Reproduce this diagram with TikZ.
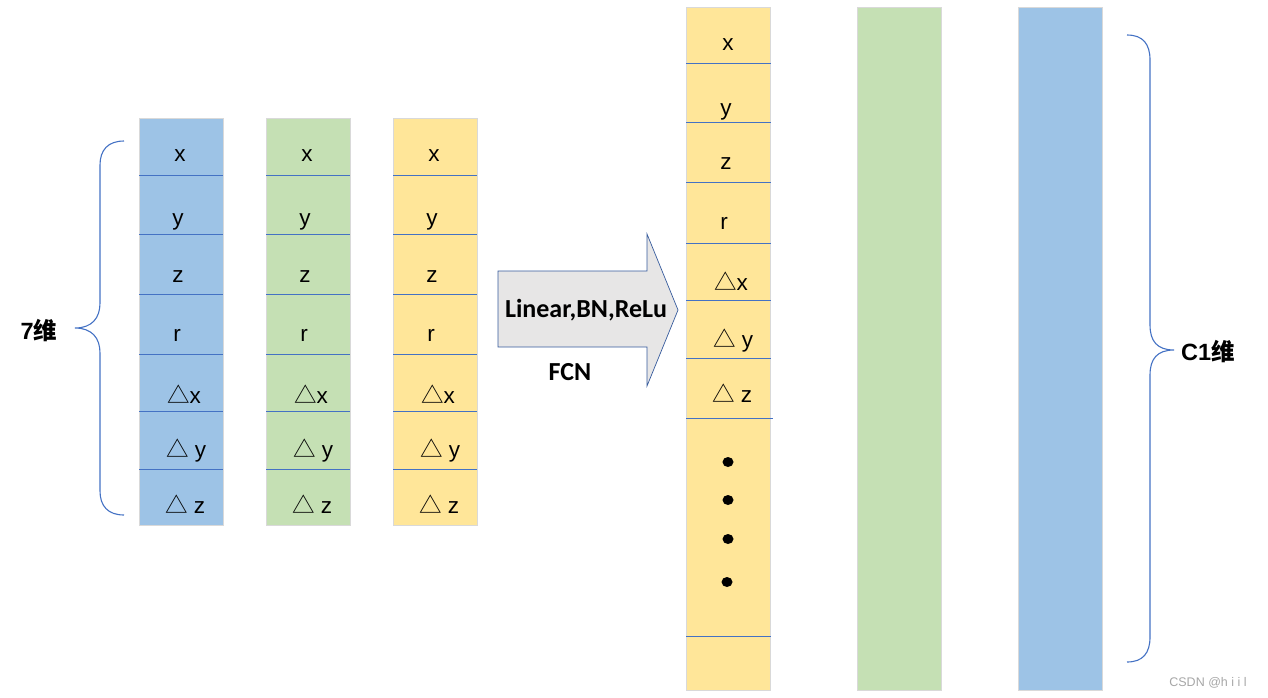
\documentclass[tikz,border=0pt]{standalone}
\usepackage{fontspec}
\setmainfont{Liberation Sans}
\newfontfamily\cjk{Noto Sans CJK SC}
\newfontfamily\calib{Carlito}
\definecolor{blueF}{HTML}{9DC3E6}
\definecolor{greenF}{HTML}{C5E0B4}
\definecolor{yellowF}{HTML}{FFE699}
\definecolor{arrowF}{HTML}{E7E6E6}
\definecolor{lineblue}{HTML}{4472C4}
\definecolor{edgegray}{HTML}{D9D9D9}
\newcommand\tri{{\cjk △}}
\begin{document}
\begin{tikzpicture}[x=1pt,y=-1pt,
  colbox/.style={draw=edgegray, line width=0.6pt, anchor=north west, inner sep=0pt, minimum width=84pt},
  div/.style={draw=lineblue, line width=0.8pt},
  lab/.style={font=\fontsize{22.5}{26}\selectfont, anchor=base, inner sep=0pt},
  bigl/.style={font=\fontsize{23.5}{27}\selectfont\bfseries, inner sep=0pt},
  brace/.style={draw=lineblue, line width=1.1pt},
  dot/.style={fill=black}]
\useasboundingbox (0,0) rectangle (1268,697);

% left columns
\node[colbox, fill=blueF, minimum height=407pt] (c1) at (139,118) {};
\node[colbox, fill=greenF, minimum height=407pt] (c2) at (266,118) {};
\node[colbox, fill=yellowF, minimum height=407pt] (c3) at (393,118) {};
\foreach \dx/\nm in {0/a,127/b,254/c}{
  \foreach \yy in {175,234,294,354,411,469}{
    \draw[div] (139+\dx,\yy) -- (223+\dx,\yy);
  }
  \node[lab] (\nm x) at (180+\dx,161) {x};
  \node[lab] (\nm y) at (178+\dx,225) {y};
  \node[lab] (\nm z) at (178+\dx,282) {z};
  \node[lab] (\nm r) at (177+\dx,341) {r};
  \node[lab] (\nm dx) at (184+\dx,403) {\tri x};
  \node[lab] (\nm dy) at (186+\dx,457) {\tri\ y};
  \node[lab] (\nm dz) at (185+\dx,513) {\tri\ z};
}

% left brace
\draw[brace] (124,141) .. controls (108,141) and (100,150) .. (100,165) -- (100,303)
  .. controls (100,318) and (92,328) .. (75,328)
  .. controls (92,328) and (100,338) .. (100,353) -- (100,491)
  .. controls (100,506) and (108,515) .. (124,515);
\node[bigl] (seven) at (39,331) {7{\cjk 维}};

% arrow
\draw[fill=arrowF, draw=lineblue!80!black, line width=0.7pt]
  (498,271) -- (647,271) -- (647,234) -- (678,310) -- (647,386) -- (647,347) -- (498,347) -- cycle;
\node[font=\calib\fontsize{26}{29}\selectfont\bfseries, inner sep=0pt] (lin) at (586,310) {Linear,BN,ReLu};
\node[font=\calib\fontsize{26}{29}\selectfont\bfseries, inner sep=0pt] (fcn) at (570,372) {FCN};

% right columns
\node[colbox, fill=yellowF, minimum height=683pt] (r1) at (686,7) {};
\node[colbox, fill=greenF, minimum height=683pt] (r2) at (857,7) {};
\node[colbox, fill=blueF, minimum height=683pt] (r3) at (1018,7) {};
\foreach \yy in {63,122,182,243,300,358,636}{
  \draw[div] (686,\yy) -- (771,\yy);
}
\draw[div] (686,418) -- (773,418);
\node[lab] (rx) at (728,50) {x};
\node[lab] (ry) at (726,115) {y};
\node[lab] (rz) at (726,169) {z};
\node[lab] (rr) at (724,229) {r};
\node[lab] (rdx) at (731,290) {\tri x};
\node[lab] (rdy) at (733,347) {\tri\ y};
\node[lab] (rdz) at (732,402) {\tri\ z};
\fill[dot] (728,462) ellipse [x radius=5.5pt, y radius=5pt];
\fill[dot] (728,500) ellipse [x radius=5.5pt, y radius=5pt];
\fill[dot] (728,539) ellipse [x radius=5.5pt, y radius=5pt];
\fill[dot] (727,582) ellipse [x radius=5.5pt, y radius=5pt];

% right brace
\draw[brace] (1127,35) .. controls (1143,35) and (1150,44) .. (1150,60) -- (1150,325)
  .. controls (1150,341) and (1157,350) .. (1174,350)
  .. controls (1157,350) and (1150,359) .. (1150,375) -- (1150,637)
  .. controls (1150,653) and (1143,662) .. (1127,662);
\node[bigl] (c1lab) at (1208,352) {C1{\cjk 维}};

\node[font=\fontsize{12.5}{14}\selectfont, text=black!35, inner sep=0pt] (wm) at (1208,683) {CSDN @h i i l};
\end{tikzpicture}
\end{document}
